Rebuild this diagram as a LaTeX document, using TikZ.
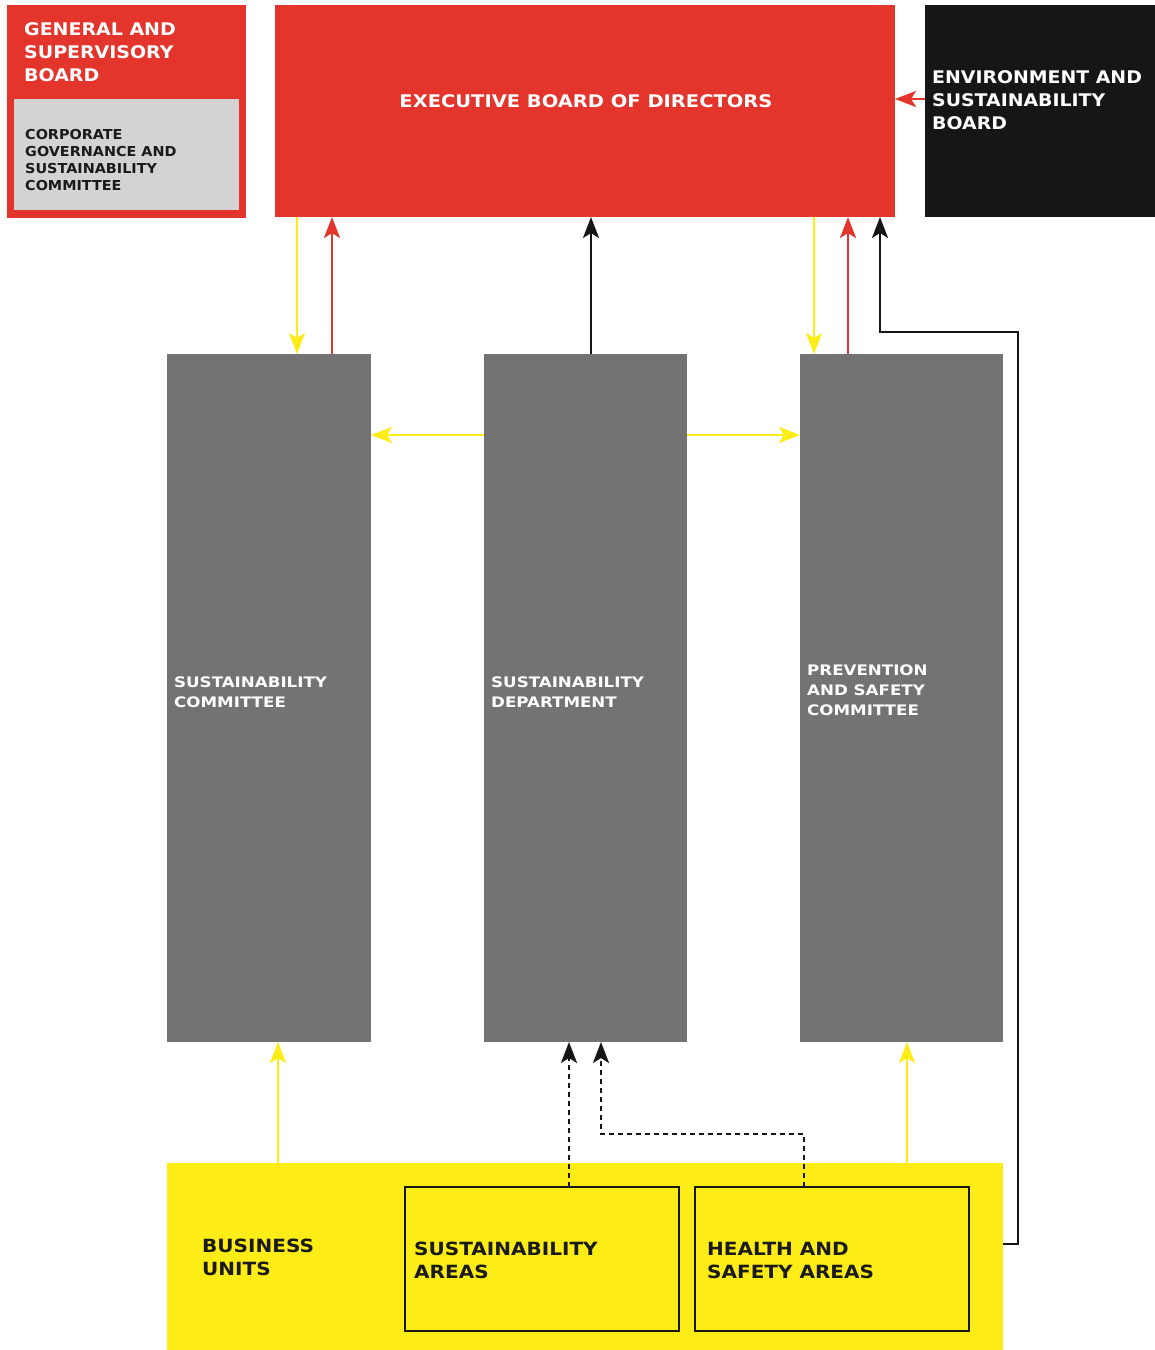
\documentclass[tikz,border=0pt]{standalone}
\usepackage{fontspec}
\setmainfont{DejaVu Sans}
\usetikzlibrary{arrows.meta}
\definecolor{cred}{HTML}{E3352B}
\definecolor{cgray}{HTML}{737373}
\definecolor{cblack}{HTML}{161616}
\definecolor{cyellow}{HTML}{FDEC15}
\definecolor{clight}{HTML}{D3D3D3}
\definecolor{ctext}{HTML}{1A1A1A}
\tikzset{
  box/.style={draw=none, inner sep=0pt, outer sep=0pt, anchor=north west},
  lbl/.style n args={3}{inner sep=0pt, anchor=west, align=left,
    font=\bfseries\addfontfeatures{FakeStretch=#3}\fontsize{#1}{#2}\selectfont},
  tip/.style={-{Stealth[length=21pt,width=16pt,inset=5pt]}},
  yarr/.style={tip, draw=cyellow, line width=2.6pt},
  rarr/.style={tip, draw=cred, line width=2.6pt},
  barr/.style={tip, draw=cblack, line width=2.4pt},
  darr/.style={tip, draw=cblack, line width=2.6pt, dash pattern=on 5pt off 4pt},
}
\begin{document}
\begin{tikzpicture}[x=1pt,y=-1pt]
\useasboundingbox (0,0) rectangle (1155,1350);
\fill[white] (0,0) rectangle (1155,1350);
% boxes
\node[box, fill=cred, minimum width=239pt, minimum height=213pt] (gsb) at (7,5) {};
\node[box, fill=clight, minimum width=225pt, minimum height=111pt] (cgs) at (14,99) {};
\node[box, fill=cred, minimum width=620pt, minimum height=212pt] (exec) at (275,5) {};
\node[box, fill=cblack, minimum width=230pt, minimum height=212pt] (env) at (925,5) {};
\node[box, fill=cgray, minimum width=204pt, minimum height=688pt] (sc) at (167,354) {};
\node[box, fill=cgray, minimum width=203pt, minimum height=688pt] (sd) at (484,354) {};
\node[box, fill=cgray, minimum width=203pt, minimum height=688pt] (psc) at (800,354) {};
\node[box, fill=cyellow, minimum width=836pt, minimum height=187pt] (bu) at (167,1163) {};
\node[box, fill=cyellow, draw=cblack, line width=2.2pt, minimum width=274pt, minimum height=144pt] (sa) at (405,1187) {};
\node[box, fill=cyellow, draw=cblack, line width=2.2pt, minimum width=274pt, minimum height=144pt] (hsa) at (695,1187) {};
% labels
\node[lbl={17.4}{23}{1.09}, text=white] (tgsb) at (24,52) {GENERAL AND\\SUPERVISORY\\BOARD};
\node[lbl={13.7}{17.3}{1.05}, text=ctext] (tcgs) at (25,160) {CORPORATE\\GOVERNANCE AND\\SUSTAINABILITY\\COMMITTEE};
\node[lbl={17.4}{23}{1.12}, text=white, anchor=center] (texec) at (586,101) {EXECUTIVE BOARD OF DIRECTORS};
\node[lbl={17.4}{23}{1.085}, text=white] (tenv) at (932,100) {ENVIRONMENT AND\\SUSTAINABILITY\\BOARD};
\node[lbl={14.5}{19.8}{1.15}, text=white] (tsc) at (174,692) {SUSTAINABILITY\\COMMITTEE};
\node[lbl={14.5}{19.8}{1.15}, text=white] (tsd) at (491,692) {SUSTAINABILITY\\DEPARTMENT};
\node[lbl={14.5}{19.8}{1.15}, text=white] (tpsc) at (807,690) {PREVENTION\\AND SAFETY\\COMMITTEE};
\node[lbl={18.2}{23}{1.1}, text=ctext] (tbu) at (202,1257) {BUSINESS\\UNITS};
\node[lbl={18.2}{23}{1.1}, text=ctext] (tsa) at (414,1260) {SUSTAINABILITY\\AREAS};
\node[lbl={18.2}{23}{1.1}, text=ctext] (thsa) at (707,1260) {HEALTH AND\\SAFETY AREAS};
% helper coordinates
\coordinate (c297) at (297,0);
\coordinate (c332) at (332,0);
\coordinate (c591) at (591,0);
\coordinate (c814) at (814,0);
\coordinate (c848) at (848,0);
\coordinate (c880) at (880,0);
\coordinate (c278) at (278,0);
\coordinate (c907) at (907,0);
\coordinate (c569) at (569,0);
\coordinate (c601) at (601,0);
\coordinate (c804) at (804,0);
\coordinate (r99) at (0,99);
\coordinate (r435) at (0,435);
\coordinate (r1134) at (0,1134);
\coordinate (bend1) at (1018,1244);
\coordinate (bend2) at (1018,332);
% connectors
\draw[yarr] (exec.south -| c297) -- (sc.north -| c297);
\draw[rarr] (sc.north -| c332) -- (exec.south -| c332);
\draw[barr] (sd.north -| c591) -- (exec.south -| c591);
\draw[yarr] (exec.south -| c814) -- (psc.north -| c814);
\draw[rarr] (psc.north -| c848) -- (exec.south -| c848);
\draw[barr] (bu.east |- bend1) -- (bend1) -- (bend2) -- (bend2 -| c880) -- (exec.south -| c880);
\draw[rarr] (env.west |- r99) -- (exec.east |- r99);
\draw[yarr] (sd.west |- r435) -- (sc.east |- r435);
\draw[yarr] (sd.east |- r435) -- (psc.west |- r435);
\draw[yarr] (bu.north -| c278) -- (sc.south -| c278);
\draw[yarr] (bu.north -| c907) -- (psc.south -| c907);
\draw[darr] (sa.north -| c569) -- (sd.south -| c569);
\draw[darr] (hsa.north -| c804) -- (c804 |- r1134) -- (c601 |- r1134) -- (sd.south -| c601);
\end{tikzpicture}
\end{document}
